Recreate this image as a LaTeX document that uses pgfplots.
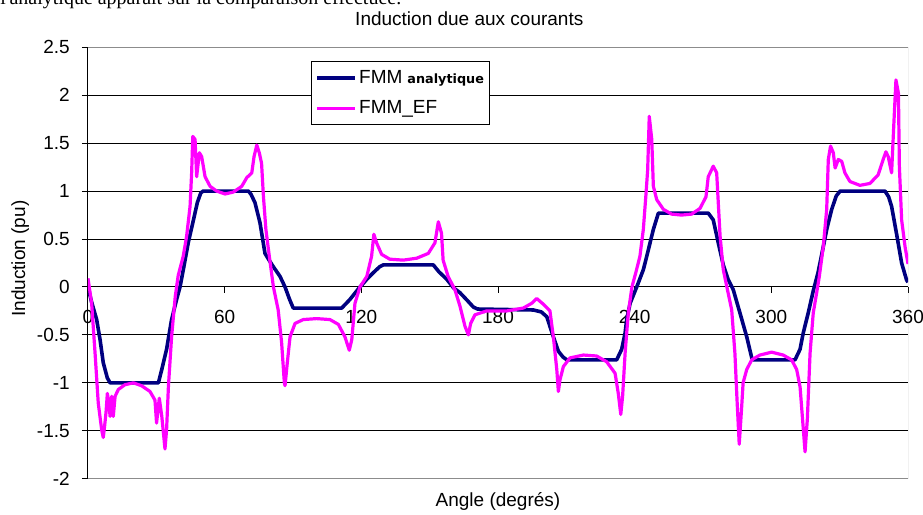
\documentclass[border=0pt]{standalone}
\usepackage{fontspec}
\setmainfont{Liberation Sans}
\newfontfamily\serifdoc{Liberation Serif}
\newfontfamily\smallfont{DejaVu Sans}
\usepackage{pgfplots}
\usepackage{pgfplotstable}
\pgfplotsset{compat=1.18}
\definecolor{fmmblue}{HTML}{000080}
\definecolor{fmmpink}{HTML}{FF00FF}
\definecolor{framegray}{HTML}{8C8C8C}

% FMM analytique
\pgfplotstableread{
angle val
0 0
1.5 -0.15
3.8 -0.34
5.3 -0.55
6.7 -0.79
8.5 -0.95
9.7 -1.0
30.9 -1.0
32.4 -0.86
34.5 -0.65
36.7 -0.34
38.9 -0.13
40.4 0
42 0.2
44 0.46
46.3 0.70
48 0.88
49.5 0.98
50.5 1.0
70.4 1.0
71.5 0.97
73.3 0.88
75.5 0.67
77.7 0.35
79.5 0.28
81.4 0.21
84.3 0.11
86.5 0
88.5 -0.13
90.1 -0.22
111.4 -0.22
115 -0.13
118.7 -0.02
122.4 0.08
125.3 0.15
128 0.21
129.6 0.23
151.6 0.23
154 0.16
157.5 0.08
160.5 -0.01
163.3 -0.06
166.5 -0.14
169.2 -0.21
171 -0.23
195.5 -0.24
199 -0.26
201.4 -0.31
204.3 -0.52
206.5 -0.67
208.5 -0.73
210.2 -0.76
232.1 -0.76
234.3 -0.65
235.8 -0.48
236.5 -0.34
238 -0.17
240.9 0
243.8 0.18
245.3 0.32
248.2 0.6
250.4 0.77
272.3 0.77
274.5 0.70
276.7 0.46
278.9 0.23
281 0.08
283.3 -0.03
286.2 -0.27
289.2 -0.52
291.4 -0.74
292 -0.76
310.4 -0.76
312.6 -0.65
314 -0.48
316.2 -0.27
318.4 -0.04
320.5 0.15
322.8 0.42
324.5 0.62
326.5 0.81
328.5 0.95
330.2 1.0
349.9 1.0
351.5 0.94
352.8 0.84
355 0.55
357.2 0.25
359.4 0.07
360 0.05
}\analytique

% FMM_EF
\pgfplotstableread{
angle val
0 0.09
1.6 -0.17
3.1 -0.69
4.5 -1.21
6 -1.49
6.7 -1.57
7.3 -1.45
7.9 -1.31
8.5 -1.11
9.1 -1.2
9.7 -1.35
10.4 -1.14
11.1 -1.35
11.9 -1.14
13.3 -1.07
16.2 -1.02
19.9 -1.0
23.5 -1.03
27.2 -1.09
29.4 -1.18
30.1 -1.42
31.3 -1.16
32.4 -1.35
33.8 -1.69
34.5 -1.49
35.3 -1.04
36.7 -0.52
38.3 -0.1
39.6 0.12
41.8 0.32
43.3 0.53
44.8 0.84
45.5 1.19
46 1.57
47 1.54
47.7 1.15
48.9 1.40
49.9 1.36
51.4 1.15
53.6 1.05
56.5 1.0
60.2 0.97
63.8 0.99
67.5 1.05
69.7 1.14
71.9 1.19
72.9 1.36
74.1 1.48
75.2 1.40
76.2 1.29
77 0.95
78.1 0.6
79.6 0.32
81.4 0
83.5 -0.24
85 -0.58
86.2 -1.0
86.5 -1.03
87.5 -0.79
88.7 -0.52
90.9 -0.38
94.5 -0.34
100.4 -0.33
106.2 -0.34
109.9 -0.39
112.8 -0.52
114.7 -0.66
115.8 -0.55
117.2 -0.17
119.4 0
122.4 0.11
124.5 0.32
125.5 0.55
126.7 0.46
128.9 0.34
132.5 0.29
138.4 0.28
144.3 0.30
149.4 0.35
152.3 0.46
153.8 0.68
155.2 0.56
155.9 0.28
158.1 0.11
161.1 -0.03
163.3 -0.2
165.5 -0.41
167 -0.5
168 -0.38
169.9 -0.29
175 -0.25
183.8 -0.25
191.1 -0.22
194.8 -0.17
197 -0.12
199.9 -0.18
202.8 -0.25
204.3 -0.52
205.8 -0.86
206.5 -1.09
207.2 -0.97
208.7 -0.83
211.6 -0.74
217.5 -0.71
223.3 -0.72
227.7 -0.78
231.4 -0.90
232.8 -1.11
233.9 -1.33
234.7 -1.14
235.8 -0.69
237.2 -0.27
238.8 0
240.5 0.15
242.3 0.32
243.8 0.6
245 0.98
245.7 1.22
246.4 1.78
247.5 1.54
248.2 1.05
249.7 0.91
252.6 0.81
256.2 0.76
260.6 0.75
265 0.76
268.7 0.82
271.3 0.94
272.3 1.15
274.5 1.26
276 1.19
276.7 0.88
277.5 0.53
278.9 0.18
280.3 0.02
282.6 -0.24
284 -0.69
285 -1.21
285.9 -1.64
286.9 -1.28
287.6 -1.0
289.2 -0.86
291.4 -0.76
295 -0.71
300.1 -0.68
305.2 -0.71
308.9 -0.76
311.1 -0.86
312.6 -1.04
313.7 -1.38
314.8 -1.72
315.8 -1.38
317 -0.69
318.4 -0.27
319.9 -0.06
321 0.1
322.8 0.42
324.3 0.81
325 1.33
326 1.47
327.2 1.40
328 1.24
329.4 1.33
330.9 1.31
332.3 1.19
334.5 1.10
338.9 1.06
343.3 1.08
346.9 1.17
349.1 1.33
350.3 1.41
351.3 1.36
352.8 1.19
353.6 1.61
354.7 2.16
355.8 2.02
356.2 1.26
357.2 0.70
358.7 0.42
360 0.24
}\ef

\begin{document}
\begin{tikzpicture}
\begin{axis}[
    scale only axis,
    width=410pt, height=215.7pt,
    xmin=0, xmax=360, ymin=-2, ymax=2.5,
    axis x line*=middle, axis y line*=left,
    hide obscured x ticks=false,
    xtick={0,60,120,180,240,300,360},
    xticklabels={0,60,120,180,240,300,360},
    ytick={-2,-1.5,-1,-0.5,0,0.5,1,1.5,2,2.5},
    yticklabels={-2,-1.5,-1,-0.5,0,0.5,1,1.5,2,2.5},
    tick align=outside,
    major tick length=3pt,
    tick style={black, line width=0.5pt},
    axis line style={black, line width=0.5pt},
    ymajorgrids,
    grid style={black, line width=0.5pt},
    ticklabel style={font=\fontsize{9.5}{11}\selectfont},
    xticklabel style={yshift=-5pt},
    yticklabel style={xshift=-2.6pt},
    title={Induction due aux courants},
    title style={at={(axis description cs:0.465,1)}, anchor=base, yshift=5.15pt,
        font=\fontsize{9.5}{11}\selectfont},
    xlabel={Angle (degrés)},
    xlabel style={at={(axis description cs:0.5,0)}, anchor=base, yshift=-14pt,
        font=\fontsize{9.5}{11}\selectfont},
    ylabel={Induction (pu)},
    ylabel style={at={(axis description cs:-0.0768,0.51)}, anchor=base,
        font=\fontsize{9.5}{11}\selectfont},
    legend style={at={(0.272,0.968)}, anchor=north west, draw=black,
        line width=0.5pt, fill=white, inner xsep=2pt, inner ysep=1.75pt,
        row sep=2pt,
        nodes={inner xsep=1pt, inner ysep=2pt, text height=7pt, text depth=2pt,
            font=\fontsize{9.5}{11}\selectfont}},
    legend cell align=left,
    legend image code/.code={\draw[#1] (0pt,0pt) -- (19pt,0pt);},
]
\addplot[fmmblue, line width=1.8pt, line join=round] table[x=angle, y=val] {\analytique};
\addlegendentry{FMM\hspace{2.5pt}{\smallfont\bfseries\fontsize{6.4}{7}\selectfont analytique}}
\addplot[fmmpink, line width=1.6pt, line join=round] table[x=angle, y=val] {\ef};
\addlegendentry{FMM\_EF}
\draw[framegray, line width=0.5pt] (rel axis cs:0,0) -- (rel axis cs:1,0)
    -- (rel axis cs:1,1) -- (rel axis cs:0,1);
\coordinate (sw) at (rel axis cs:0,0);
\coordinate (ne) at (rel axis cs:1,1);
\coordinate (nw) at (rel axis cs:0,1);
\end{axis}
\node[anchor=base west, inner sep=0pt, font=\serifdoc\fontsize{10}{12}\selectfont]
    at ([shift={(-44pt,21.6pt)}]nw) {l'analytique apparaît sur la comparaison effectuée.};
\pgfresetboundingbox
\path[use as bounding box] ([shift={(-44pt,-17.65pt)}]sw) rectangle ([shift={(7.5pt,23.65pt)}]ne);
\end{tikzpicture}
\end{document}
